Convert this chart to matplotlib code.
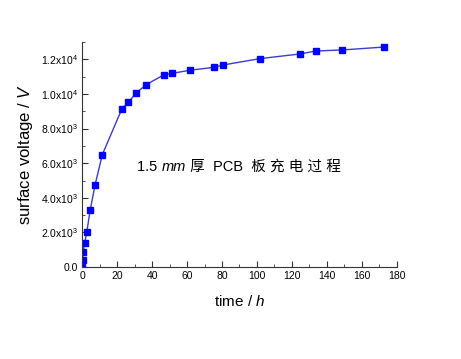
import matplotlib
matplotlib.use("Agg")
import matplotlib.pyplot as plt
from matplotlib.ticker import MultipleLocator, FuncFormatter
from matplotlib.transforms import offset_copy

plt.rcParams["font.family"] = ["Liberation Sans", "Noto Sans CJK SC"]
plt.rcParams["mathtext.fontset"] = "custom"
plt.rcParams["mathtext.rm"] = "Liberation Sans"
plt.rcParams["mathtext.it"] = "Liberation Sans:italic"

# charging data
time_h = [0, 0.3, 0.6, 1.5, 2.7, 4.6, 7.5, 11.6, 22.7, 26.5, 30.8, 36.7,
          46.7, 51.6, 61.7, 75.7, 80.5, 101.7, 124.7, 133.6, 148.7, 172.8]
voltage = [0, 400, 880, 1400, 2020, 3270, 4770, 6500, 9120, 9520, 10040,
           10540, 11100, 11190, 11370, 11540, 11670, 12040, 12310, 12480,
           12540, 12710]


def sci_fmt(v, pos):
    if v == 0:
        return "0.0"
    exp = 4 if v >= 10000 else 3
    return r"%.1fx10$^{%d}$" % (v / 10 ** exp, exp)


fig = plt.figure(figsize=(4.61, 3.59), dpi=100)
ax = fig.add_axes([0.178, 0.256, 0.683, 0.627])

ax.plot(time_h, voltage, "-", color="#3c3cc8", lw=1.0)
ax.plot(time_h, voltage, "s", color="#0000ff", ms=4.2, mec="#0000ff")

ax.set_xlim(0, 180)
ax.set_ylim(0, 13000)
ax.xaxis.set_major_locator(MultipleLocator(20))
ax.xaxis.set_minor_locator(MultipleLocator(10))
ax.yaxis.set_major_locator(MultipleLocator(2000))
ax.yaxis.set_minor_locator(MultipleLocator(1000))
ax.yaxis.set_major_formatter(FuncFormatter(sci_fmt))
ax.tick_params(which="both", direction="in", labelsize=7.5, color="#333333")
ax.tick_params(which="major", length=4, pad=3)
ax.tick_params(which="minor", length=2.5)
for s in ["top", "right"]:
    ax.spines[s].set_visible(False)
for s in ["left", "bottom"]:
    ax.spines[s].set_color("#333333")

ax.set_xlabel(r"time / $\mathit{h}$", fontsize=11, labelpad=9)
ax.set_ylabel(r"surface voltage / $\mathit{V}$", fontsize=12, labelpad=4)

# annotation built from pieces so "mm" can be italic
fig.canvas.draw()
r = fig.canvas.get_renderer()
x0, y0 = 0.298, 0.525
parts = [("1.5 ", "normal"), ("mm", "italic"), (" 厚  PCB  板 充 电 过 程", "normal")]
trans = fig.transFigure
for txt, style in parts:
    t = fig.text(x0, y0, txt, transform=trans, fontsize=10.5, style=style,
                 va="baseline", ha="left")
    w = t.get_window_extent(r).width
    trans = offset_copy(trans, fig=fig, x=w, y=0, units="dots")

fig.savefig("out.png", dpi=100)
